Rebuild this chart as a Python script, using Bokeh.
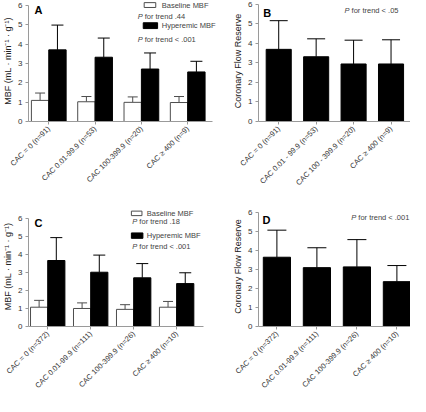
from math import pi
from bokeh.plotting import figure
from bokeh.models import FixedTicker, Range1d, ColumnDataSource, Whisker, TeeHead, Label
from bokeh.layouts import row, column
from bokeh.embed import file_html
from bokeh.resources import INLINE

# ---------------- data ----------------
labels_A = ["CAC = 0 (n=91)", "CAC 0.01-99.9 (n=53)", "CAC 100-399.9 (n=20)", "CAC \u2265 400 (n=9)"]
labels_B = ["CAC = 0 (n=91)", "CAC 0.01 - 99.9 (n=53)", "CAC 100 - 399.9 (n=20)", "CAC \u2265 400 (n=9)"]
labels_C = ["CAC = 0 (n=372)", "CAC 0.01-99.9 (n=111)", "CAC 100-399.9 (n=26)", "CAC \u2265 400 (n=10)"]
labels_D = ["CAC = 0 (n=372)", "CAC 0.01-99.9 (n=111)", "CAC 100-399.9 (n=26)", "CAC \u2265 400 (n=10)"]

a_base = [1.09, 1.02, 0.99, 0.98]
a_base_sd = [0.38, 0.27, 0.28, 0.31]
a_hyp = [3.70, 3.32, 2.71, 2.56]
a_hyp_sd = [1.28, 0.99, 0.83, 0.55]

b_cfr = [3.70, 3.32, 2.95, 2.95]
b_cfr_sd = [1.47, 0.92, 1.22, 1.24]

c_base = [1.07, 1.00, 0.95, 1.07]
c_base_sd = [0.38, 0.31, 0.26, 0.32]
c_hyp = [3.66, 3.01, 2.70, 2.38]
c_hyp_sd = [1.27, 0.95, 0.79, 0.60]

d_cfr = [3.66, 3.11, 3.15, 2.37]
d_cfr_sd = [1.43, 1.05, 1.44, 0.85]

y_ticks = [0, 1, 2, 3, 4, 5, 6]
group_pos = [0, 1, 2, 3]

FONT = "Liberation Sans"
AXC = "#9a9a9a"
TXT = "#333333"
GRAYLINE = "#4d4d4d"
LEGC = "#444444"


def make_fig(w, h, bl, br, bb, x0, x1, y1, labels, ylabel, xbound=None):
    p = figure(width=w, height=h, x_range=Range1d(x0, x1), y_range=Range1d(0, y1),
               output_backend="svg", toolbar_location=None,
               min_border_left=bl, min_border_right=br, min_border_top=0,
               min_border_bottom=bb)
    p.grid.visible = False
    p.outline_line_color = None
    for ax in (p.xaxis[0], p.yaxis[0]):
        ax.axis_line_color = AXC
        ax.major_tick_line_color = AXC
        ax.minor_tick_line_color = None
        ax.major_tick_out = 3
        ax.major_tick_in = 0
        ax.major_label_text_font = FONT
        ax.major_label_text_color = TXT
    p.yaxis.bounds = (0, 6)
    if xbound is not None:
        p.xaxis.bounds = xbound
    p.yaxis.ticker = FixedTicker(ticks=y_ticks)
    p.yaxis.major_label_text_font_size = "8px"
    p.yaxis.major_label_standoff = 3
    p.yaxis.axis_label = ylabel
    p.yaxis.axis_label_text_font = FONT
    p.yaxis.axis_label_text_font_size = "9px"
    p.yaxis.axis_label_text_font_style = "normal"
    p.yaxis.axis_label_text_color = "#222222"
    p.yaxis.axis_label_standoff = 2
    p.xaxis.ticker = FixedTicker(ticks=group_pos)
    p.xaxis.major_label_overrides = {i: lab for i, lab in enumerate(labels)}
    p.xaxis.major_label_orientation = pi / 4
    p.xaxis.major_label_text_font_size = "7.5px"
    p.xaxis.major_label_standoff = 3
    return p


def bars(p, xs, vals, sds, width, fill, line, cap):
    src = ColumnDataSource(dict(x=xs, top=vals, upper=[v + s for v, s in zip(vals, sds)]))
    p.vbar(x="x", top="top", bottom=0, width=width, source=src,
           fill_color=fill, line_color=line, line_width=1)
    w = Whisker(source=src, base="x", lower="top", upper="upper", dimension="height",
                line_color=line, line_width=1,
                upper_head=TeeHead(size=cap, line_color=line, line_width=1),
                lower_head=None)
    p.add_layout(w)


def letter(p, x, y, t):
    p.add_layout(Label(x=x, y=y, text=t, text_font=FONT, text_font_size="11px",
                       text_font_style="bold", text_color="black", text_baseline="top"))


def ptrend(p, x, y, rest):
    p.add_layout(Label(x=x, y=y, text="P", text_font=FONT, text_font_size="7.5px",
                       text_font_style="italic", text_color=LEGC, text_baseline="middle"))
    p.add_layout(Label(x=x, y=y, x_offset=7, text=rest, text_font=FONT, text_font_size="7.5px",
                       text_color=LEGC, text_baseline="middle"))


def legtext(p, x, y, t):
    p.add_layout(Label(x=x, y=y, text=t, text_font=FONT, text_font_size="7.5px",
                       text_color=LEGC, text_baseline="middle"))


MBF_LABEL = "MBF (mL \u00b7 min\u207b\u00b9 \u00b7 g\u207b\u00b9)"
CFR_LABEL = "Coronary Flow Reserve"

# ---------------- panel A ----------------
pA = make_fig(230, 206, 21, 10, 81, -0.4375, 3.708, 6.25, labels_A, MBF_LABEL,
              xbound=(-0.4375, 3.54))
bw = 0.375
bars(pA, [g - bw / 2 for g in group_pos], a_base, a_base_sd, bw, "white", GRAYLINE, 10)
bars(pA, [g + bw / 2 for g in group_pos], a_hyp, a_hyp_sd, bw, "black", "black", 12)
letter(pA, -0.31, 6.05, "A")
pA.quad(left=[2.06], right=[2.31], bottom=[5.89], top=[6.14], fill_color="white", line_color=GRAYLINE)
legtext(pA, 2.44, 6.0, "Baseline MBF")
ptrend(pA, 1.92, 5.4, "for trend .44")
pA.quad(left=[2.04], right=[2.35], bottom=[4.80], top=[5.10], fill_color="black", line_color="black")
legtext(pA, 2.44, 4.95, "Hyperemic MBF")
ptrend(pA, 1.92, 4.26, "for trend < .001")

# ---------------- panel B ----------------
pB = make_fig(180, 206, 25, 0, 85, -0.54, 3.52, 6.205, labels_B, CFR_LABEL)
bars(pB, group_pos, b_cfr, b_cfr_sd, 0.67, "black", "black", 18)
letter(pB, -0.41, 5.85, "B")
ptrend(pB, 1.76, 5.71, "for trend < .05")

# ---------------- panel C ----------------
pC = make_fig(230, 190, 21, 27, 58, -0.447, 3.625, 6.656, labels_C, MBF_LABEL)
cw = 0.40
bars(pC, [g - cw / 2 for g in group_pos], c_base, c_base_sd, cw, "white", GRAYLINE, 10)
bars(pC, [g + cw / 2 for g in group_pos], c_hyp, c_hyp_sd, cw, "black", "black", 12)
letter(pC, -0.31, 6.05, "C")
pC.quad(left=[1.947], right=[2.193], bottom=[6.15], top=[6.40], fill_color="white", line_color=GRAYLINE)
legtext(pC, 2.305, 6.25, "Baseline MBF")
ptrend(pC, 1.97, 5.80, "for trend .18")
pC.quad(left=[1.947], right=[2.215], bottom=[4.89], top=[5.19], fill_color="black", line_color="black")
legtext(pC, 2.305, 5.04, "Hyperemic MBF")
ptrend(pC, 1.97, 4.44, "for trend < .001")

# ---------------- panel D ----------------
pD = make_fig(180, 190, 24, 0, 60, -0.46, 3.34, 6.34, labels_D, CFR_LABEL)
bars(pD, group_pos, d_cfr, d_cfr_sd, 0.68, "black", "black", 19)
letter(pD, -0.36, 5.95, "D")
ptrend(pD, 1.86, 5.76, "for trend < .001")

layout = column(row(pA, pB), row(pC, pD))
open("out.html", "w").write(file_html(layout, INLINE))
